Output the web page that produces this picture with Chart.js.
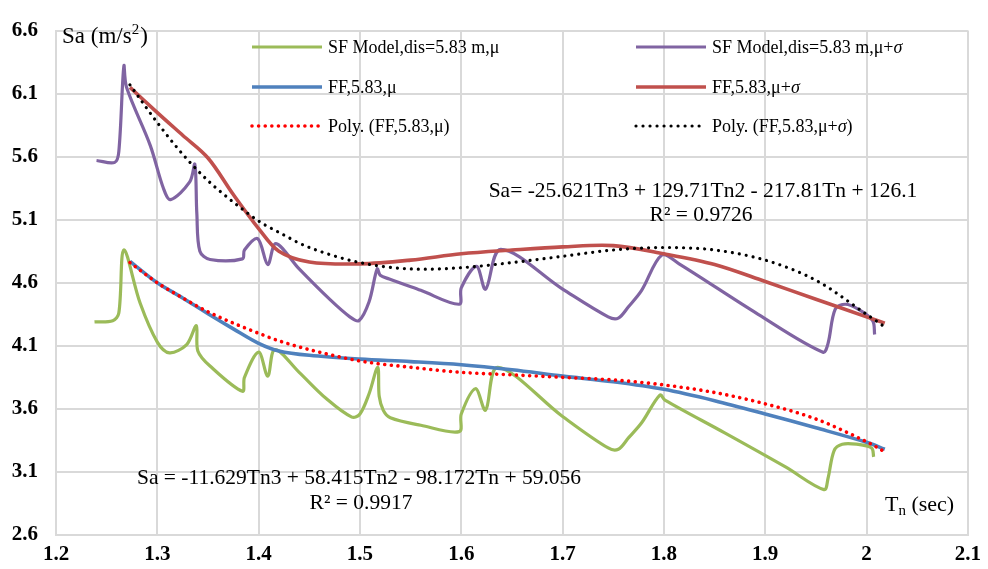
<!DOCTYPE html>
<html>
<head>
<meta charset="utf-8">
<script src="https://cdn.jsdelivr.net/npm/chart.js@4/dist/chart.umd.min.js"></script>
<style>
  html, body { margin: 0; padding: 0; background: #ffffff; }
  #wrap { width: 988px; height: 569px; }
</style>
</head>
<body>
<div id="wrap"><canvas id="c" width="988" height="569"></canvas></div>
<script>
// Period Tn (sec) and spectral acceleration Sa (m/s²) for each series
const sfMeanT = [1.238,1.256,1.262,1.267,1.283,1.300,1.312,1.329,1.3385,1.340,1.352,1.384,1.386,1.400,1.409,1.416,1.440,1.467,1.492,1.500,1.509,1.5175,1.519,1.523,1.530,1.560,1.598,1.600,1.614,1.624,1.636,1.700,1.745,1.755,1.765,1.778,1.796,1.801,1.860,1.920,1.958,1.962,1.968,1.976,1.990,2.005,2.007];
const sfMeanSa = [4.29,4.30,4.36,4.86,4.44,4.13,4.045,4.11,4.26,4.06,3.94,3.74,3.85,4.05,3.86,4.07,3.89,3.68,3.535,3.56,3.72,3.93,3.70,3.59,3.53,3.47,3.42,3.56,3.76,3.59,3.93,3.54,3.29,3.28,3.37,3.49,3.71,3.67,3.41,3.14,2.96,3.05,3.27,3.32,3.32,3.29,3.22];

const sfSigmaT = [1.240,1.258,1.262,1.267,1.2696,1.293,1.306,1.313,1.332,1.337,1.339,1.342,1.352,1.384,1.386,1.399,1.409,1.417,1.440,1.470,1.490,1.499,1.509,1.517,1.520,1.529,1.560,1.598,1.600,1.615,1.624,1.639,1.700,1.745,1.755,1.765,1.778,1.798,1.815,1.893,1.957,1.962,1.969,1.979,1.992,2.006,2.008];
const sfSigmaSa = [5.57,5.555,5.64,6.32,6.15,5.69,5.35,5.26,5.40,5.54,5.15,4.85,4.785,4.79,4.86,4.95,4.745,4.91,4.71,4.47,4.33,4.30,4.45,4.71,4.66,4.63,4.54,4.43,4.56,4.73,4.55,4.865,4.55,4.33,4.32,4.41,4.54,4.82,4.75,4.35,4.05,4.12,4.39,4.43,4.39,4.30,4.19];

const ffT = [1.273,1.30,1.325,1.35,1.375,1.40,1.42,1.45,1.50,1.55,1.60,1.65,1.70,1.75,1.80,1.85,1.90,1.95,2.00,2.018];
const ffMeanSa = [4.77,4.60,4.48,4.355,4.235,4.12,4.06,4.025,3.995,3.975,3.95,3.91,3.86,3.815,3.755,3.665,3.56,3.45,3.335,3.28];
const ffSigmaSa = [6.15,5.95,5.77,5.59,5.30,5.03,4.85,4.765,4.75,4.78,4.83,4.86,4.885,4.895,4.83,4.745,4.61,4.47,4.33,4.28];

// Cubic trend lines through the FF curves
const polyMeanSa = [4.76,4.60,4.48,4.37,4.28,4.20,4.14,4.07,3.98,3.93,3.89,3.87,3.85,3.83,3.79,3.73,3.64,3.52,3.34,3.26];
const polySigmaSa = [6.17,5.87,5.62,5.41,5.24,5.09,5.00,4.88,4.76,4.71,4.72,4.76,4.81,4.86,4.88,4.86,4.78,4.62,4.35,4.25];

const xTickLabels = ['1.2','1.3','1.4','1.5','1.6','1.7','1.8','1.9','2','2.1'];
const yTickLabels = ['2.6','3.1','3.6','4.1','4.6','5.1','5.6','6.1','6.6'];

const seriesLabels = [
  'SF Model,dis=5.83 m,\u03bc',
  'SF Model,dis=5.83 m,\u03bc+\u03c3',
  'FF,5.83,\u03bc',
  'FF,5.83,\u03bc+\u03c3',
  'Poly. (FF,5.83,\u03bc)',
  'Poly. (FF,5.83,\u03bc+\u03c3)'
];

const eqSigma = 'Sa= -25.621Tn3 + 129.71Tn2 - 217.81Tn + 126.1';
const r2Sigma = 'R\u00b2 = 0.9726';
const eqMean = 'Sa = -11.629Tn3 + 58.415Tn2 - 98.172Tn + 59.056';
const r2Mean = 'R\u00b2 = 0.9917';

const SERIF = '"Liberation Serif", "Times New Roman", serif';

function pts(xs, ys) { return xs.map((x, i) => ({ x: x, y: ys[i] })); }

const datasets = [
  { label: seriesLabels[0], data: pts(sfMeanT, sfMeanSa), borderColor: '#9bbb59', borderWidth: 3.2, order: 5 },
  { label: seriesLabels[1], data: pts(sfSigmaT, sfSigmaSa), borderColor: '#8064a2', borderWidth: 3.2, order: 4 },
  { label: seriesLabels[2], data: pts(ffT, ffMeanSa), borderColor: '#4f81bd', borderWidth: 3.6, order: 3 },
  { label: seriesLabels[3], data: pts(ffT, ffSigmaSa), borderColor: '#c0504d', borderWidth: 3.6, order: 2 },
  { label: seriesLabels[4], data: pts(ffT, polyMeanSa), borderColor: '#ff0000', borderWidth: 3.6, borderDash: [0.01, 6.6], borderCapStyle: 'round', order: 1 },
  { label: seriesLabels[5], data: pts(ffT, polySigmaSa), borderColor: '#000000', borderWidth: 3.2, borderDash: [0.01, 7], borderCapStyle: 'round', order: 0 }
];
datasets.forEach(d => {
  d.fill = false;
  d.pointRadius = 0;
  d.pointHoverRadius = 0;
  d.tension = 0.33;
  d.borderJoinStyle = 'round';
});

// Draws a label where every σ is set in italics
function drawRich(ctx, text, x, y, size) {
  const parts = text.split('\u03c3');
  let cx = x;
  parts.forEach((p, i) => {
    ctx.font = size + 'px ' + SERIF;
    ctx.fillText(p, cx, y);
    cx += ctx.measureText(p).width;
    if (i < parts.length - 1) {
      ctx.font = 'italic ' + size + 'px ' + SERIF;
      ctx.fillText('\u03c3', cx, y);
      cx += ctx.measureText('\u03c3').width;
    }
  });
}

const annotate = {
  id: 'annotate',
  afterDraw(chart) {
    const ctx = chart.ctx;
    ctx.save();
    ctx.fillStyle = '#000000';
    ctx.textBaseline = 'middle';
    ctx.textAlign = 'left';

    // Legend: two columns, three rows
    const cols = [252, 636];
    const rows = [47, 87, 126];
    const sampleLen = 70;
    chart.data.datasets.forEach((ds, i) => {
      const cx = cols[i % 2];
      const cy = rows[Math.floor(i / 2)];
      ctx.save();
      ctx.strokeStyle = ds.borderColor;
      ctx.lineWidth = ds.borderWidth;
      ctx.lineCap = ds.borderDash ? 'round' : 'butt';
      ctx.setLineDash(ds.borderDash || []);
      ctx.beginPath();
      ctx.moveTo(cx, cy);
      ctx.lineTo(cx + sampleLen, cy);
      ctx.stroke();
      ctx.restore();
      ctx.fillStyle = '#000000';
      drawRich(ctx, ds.label, cx + sampleLen + 6, cy + 1, 18);
    });

    // Axis titles
    ctx.font = '23px ' + SERIF;
    let t = 'Sa (m/s';
    ctx.fillText(t, 62, 37);
    let w = ctx.measureText(t).width;
    ctx.font = '15px ' + SERIF;
    ctx.fillText('2', 62 + w, 30);
    let w2 = ctx.measureText('2').width;
    ctx.font = '23px ' + SERIF;
    ctx.fillText(')', 62 + w + w2 + 1, 37);

    ctx.font = '22px ' + SERIF;
    ctx.fillText('T', 885, 505);
    w = ctx.measureText('T').width;
    ctx.font = '15px ' + SERIF;
    ctx.fillText('n', 885 + w, 511);
    w2 = ctx.measureText('n').width;
    ctx.font = '22px ' + SERIF;
    ctx.fillText(' (sec)', 885 + w + w2, 505);

    // Trend line equations
    ctx.textAlign = 'center';
    ctx.font = '21.5px ' + SERIF;
    ctx.fillText(eqSigma, 703, 191);
    ctx.fillText(r2Sigma, 701, 215);
    ctx.fillText(eqMean, 359, 478);
    ctx.fillText(r2Mean, 361, 503);

    ctx.restore();
  }
};

new Chart(document.getElementById('c'), {
  type: 'line',
  data: { datasets: datasets },
  options: {
    responsive: false,
    animation: false,
    devicePixelRatio: 1,
    layout: { padding: { top: 19, right: 18, left: 0, bottom: 0 } },
    plugins: { legend: { display: false }, tooltip: { enabled: false } },
    scales: {
      x: {
        type: 'linear',
        min: 1.2,
        max: 2.1,
        afterFit: s => { s.height = 34; },
        afterBuildTicks: s => { s.ticks = xTickLabels.map(v => ({ value: parseFloat(v) })); },
        grid: { color: '#d9d9d9', lineWidth: 2, drawTicks: false },
        border: { color: '#d9d9d9', width: 2 },
        ticks: {
          padding: 7,
          color: '#000000',
          font: { family: SERIF, size: 21, weight: 'bold' },
          callback: (v, i) => xTickLabels[i]
        }
      },
      y: {
        type: 'linear',
        min: 2.6,
        max: 6.6,
        afterFit: s => { s.width = 56; },
        afterBuildTicks: s => { s.ticks = yTickLabels.map(v => ({ value: parseFloat(v) })); },
        grid: { color: '#d9d9d9', lineWidth: 2, drawTicks: false },
        border: { color: '#d9d9d9', width: 2 },
        ticks: {
          padding: 18,
          color: '#000000',
          font: { family: SERIF, size: 21, weight: 'bold' },
          callback: (v, i) => yTickLabels[i]
        }
      }
    }
  },
  plugins: [annotate]
});
</script>
</body>
</html>
